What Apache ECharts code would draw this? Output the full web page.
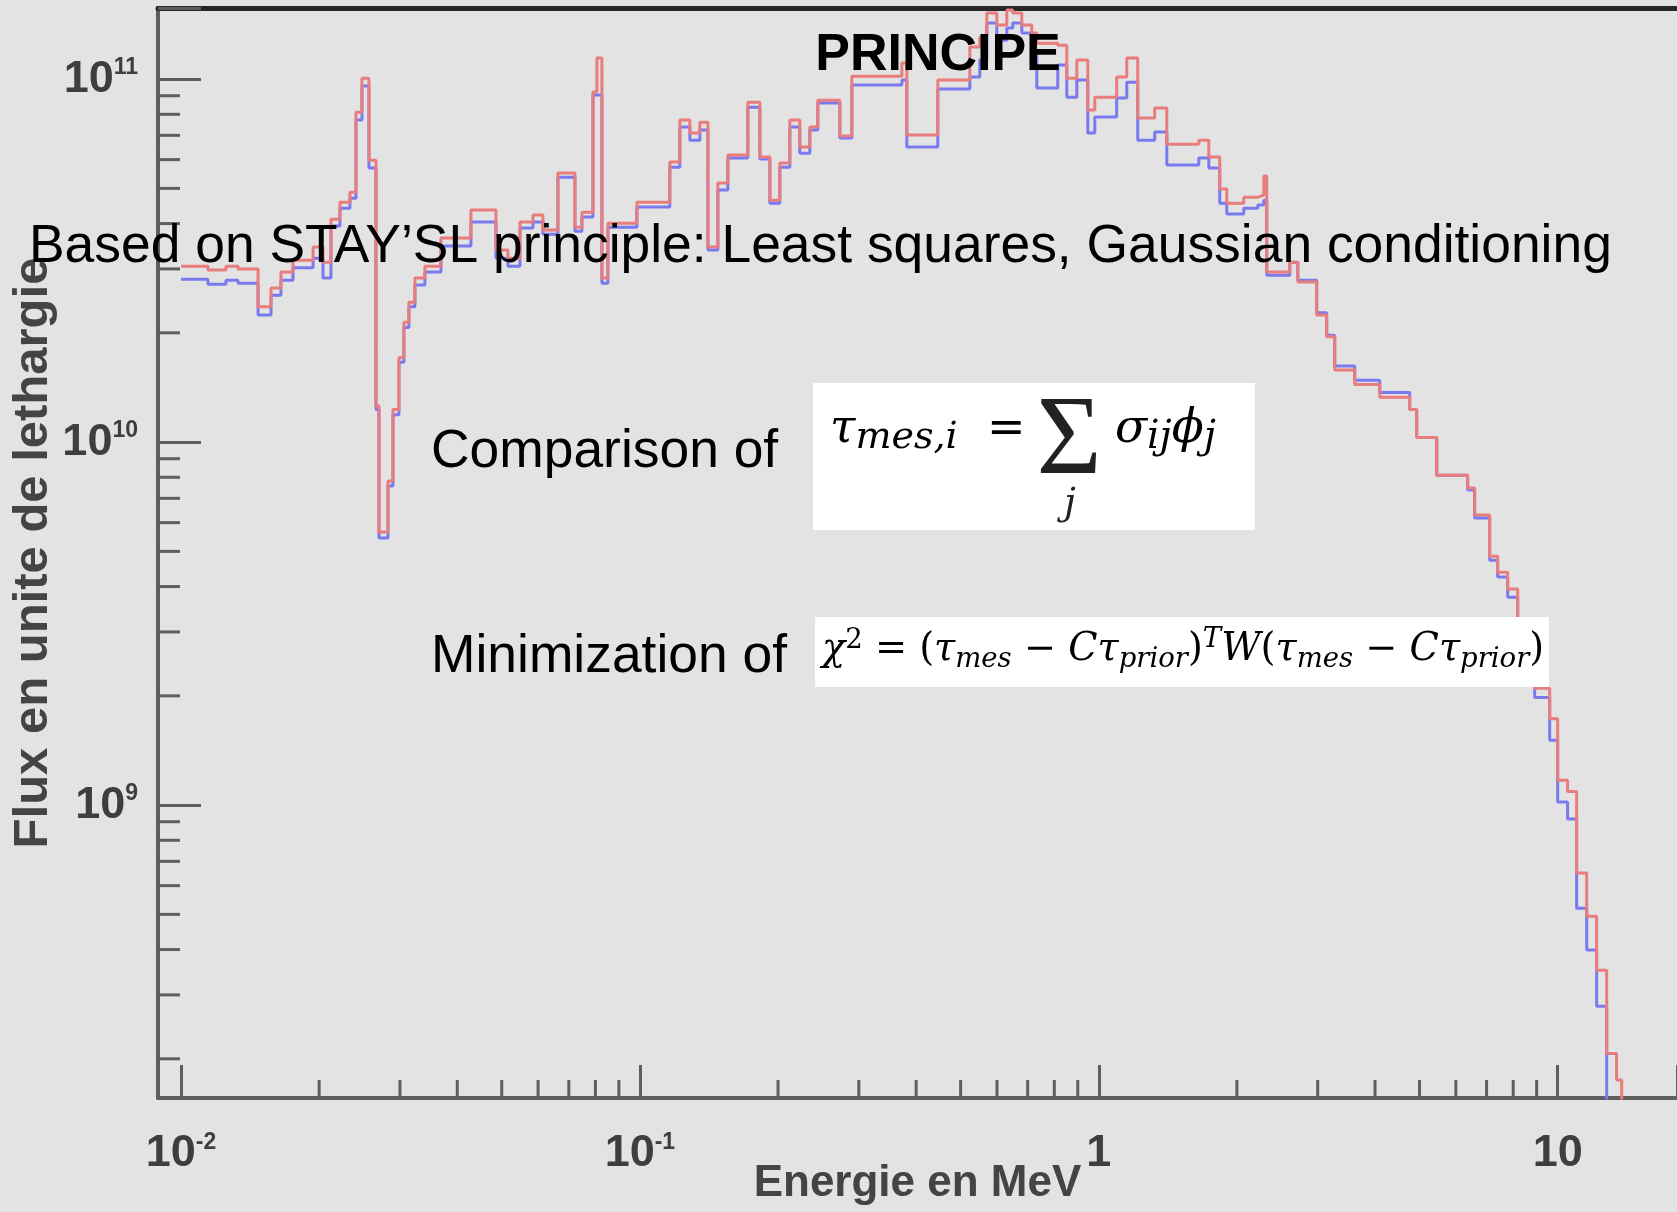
<!DOCTYPE html>
<html>
<head>
<meta charset="utf-8">
<title>PRINCIPE</title>
<script src="https://cdn.jsdelivr.net/npm/echarts@6/dist/echarts.min.js"></script>
<style>
  html, body { margin: 0; padding: 0; background: #e3e3e3; }
  #chart { width: 1677px; height: 1212px; }
</style>
</head>
<body>
<div id="chart"></div>
<script>
// bin edges of the group structure (MeV)
var energyEdges = [
  0.0100, 0.01145, 0.01253, 0.01331, 0.01472, 0.01571, 0.01651, 0.01754, 0.01940, 0.02039,
  0.02122, 0.02220, 0.02334, 0.02406, 0.02479, 0.02568, 0.02660, 0.02700, 0.02825, 0.02897,
  0.02985, 0.03060, 0.03138, 0.03234, 0.03400, 0.03685, 0.04283, 0.04857, 0.05158, 0.05478,
  0.05847, 0.06148, 0.06628, 0.07219, 0.07476, 0.07901, 0.08061, 0.08265, 0.08518, 0.09851,
  0.1162, 0.1222, 0.1285, 0.1351, 0.1407, 0.1479, 0.1555, 0.1719, 0.1826, 0.1920,
  0.2018, 0.2122, 0.2231, 0.2346, 0.2442, 0.2728, 0.2897, 0.3723, 0.3817, 0.4459,
  0.5236, 0.5504, 0.5702, 0.5995, 0.6304, 0.6495, 0.6796, 0.7145, 0.7327, 0.8140,
  0.8518, 0.8956, 0.9463, 0.9802, 1.094, 1.151, 1.216, 1.324, 1.407, 1.652,
  1.737, 1.835, 1.901, 2.070, 2.221, 2.289, 2.323, 2.608, 2.715, 2.985,
  3.138, 3.267, 3.612, 4.095, 4.760, 4.930, 5.451, 6.367, 6.594, 7.110,
  7.401, 7.782, 8.183, 8.912, 9.608, 10.00, 10.51, 11.00, 11.57, 12.16,
  12.79, 13.44, 13.79
];

// flux per unit lethargy, one value per bin
var fluxBlue = [
  2.81e10, 2.72e10, 2.79e10, 2.74e10, 2.24e10, 2.54e10, 2.79e10, 3.02e10, 3.21e10, 2.83e10,
  3.94e10, 4.41e10, 4.70e10, 7.71e10, 9.57e10, 5.69e10, 1.23e10, 5.44e9, 7.57e9, 1.19e10,
  1.66e10, 2.07e10, 2.36e10, 2.71e10, 2.94e10, 3.47e10, 4.04e10, 3.21e10, 3.05e10, 3.89e10,
  4.04e10, 3.74e10, 5.37e10, 3.81e10, 4.17e10, 9.04e10, 9.04e10, 2.74e10, 3.91e10, 4.44e10,
  5.72e10, 7.38e10, 6.79e10, 7.24e10, 3.38e10, 4.95e10, 6.06e10, 8.37e10, 6.02e10, 4.55e10,
  5.72e10, 7.38e10, 6.25e10, 7.24e10, 8.59e10, 6.88e10, 9.63e10, 9.94e10, 6.50e10, 9.39e10,
  1.013e11, 1.128e11, 1.427e11, 1.280e11, 1.382e11, 1.427e11, 1.339e11, 1.179e11, 9.45e10, 1.093e11,
  8.92e10, 9.94e10, 7.10e10, 7.86e10, 8.87e10, 9.81e10, 6.79e10, 7.15e10, 5.80e10, 6.06e10,
  5.69e10, 4.55e10, 4.25e10, 4.41e10, 4.50e10, 4.64e10, 2.88e10, 3.13e10, 2.79e10, 2.27e10,
  1.97e10, 1.62e10, 1.48e10, 1.37e10, 1.23e10, 1.03e10, 8.11e9, 7.38e9, 6.18e9, 4.73e9,
  4.25e9, 3.74e9, 2.67e9, 1.98e9, 1.51e9, 1.02e9, 9.15e8, 5.20e8, 3.99e8, 2.79e8,
  1e7, 1e7
];
var fluxRed = [
  3.05e10, 2.98e10, 3.05e10, 3.00e10, 2.36e10, 2.66e10, 2.94e10, 3.17e10, 3.45e10, 3.13e10,
  4.11e10, 4.58e10, 4.88e10, 8.11e10, 1.006e11, 5.98e10, 1.26e10, 5.65e9, 7.81e9, 1.23e10,
  1.71e10, 2.14e10, 2.43e10, 2.83e10, 3.05e10, 3.65e10, 4.36e10, 3.38e10, 3.21e10, 4.04e10,
  4.22e10, 3.84e10, 5.51e10, 3.91e10, 4.30e10, 9.21e10, 1.143e11, 2.83e10, 4.01e10, 4.58e10,
  5.91e10, 7.71e10, 7.10e10, 7.61e10, 3.45e10, 5.17e10, 6.18e10, 8.64e10, 6.10e10, 4.64e10,
  5.87e10, 7.71e10, 6.50e10, 7.38e10, 8.75e10, 6.97e10, 1.019e11, 1.107e11, 7.01e10, 9.94e10,
  1.225e11, 1.305e11, 1.520e11, 1.409e11, 1.549e11, 1.520e11, 1.409e11, 1.339e11, 1.256e11, 1.240e11,
  1.006e11, 1.128e11, 8.22e10, 8.92e10, 1.013e11, 1.143e11, 7.81e10, 8.32e10, 6.62e10, 6.79e10,
  6.10e10, 4.98e10, 4.55e10, 4.73e10, 4.79e10, 5.41e10, 2.94e10, 3.13e10, 2.76e10, 2.24e10,
  1.95e10, 1.58e10, 1.44e10, 1.33e10, 1.23e10, 1.03e10, 8.11e9, 7.47e9, 6.30e9, 4.85e9,
  4.38e9, 3.94e9, 2.85e9, 2.10e9, 1.73e9, 1.17e9, 1.09e9, 6.50e8, 4.94e8, 3.51e8,
  2.07e8, 1.75e8
];

var xRange = [0.00891, 18.2];
var yRange = [1.56e8, 1.57e11];
var floorValue = 1e7;

var xMajorTicks = [0.01, 0.1, 1, 10];
var xMajorBase = ['10', '10', '1', '10'];
var xMajorExp = ['-2', '-1', '', ''];
var xMinorTicks = [0.02, 0.03, 0.04, 0.05, 0.06, 0.07, 0.08, 0.09,
  0.2, 0.3, 0.4, 0.5, 0.6, 0.7, 0.8, 0.9,
  2, 3, 4, 5, 6, 7, 8, 9];
var yMajorTicks = [1e9, 1e10, 1e11];
var yMajorExp = ['9', '10', '11'];
var yMinorTicks = [2e8, 3e8, 4e8, 5e8, 6e8, 7e8, 8e8, 9e8,
  2e9, 3e9, 4e9, 5e9, 6e9, 7e9, 8e9, 9e9,
  2e10, 3e10, 4e10, 5e10, 6e10, 7e10, 8e10, 9e10];

var SANS = "'Liberation Sans', Arial, Helvetica, sans-serif";
var SERIF = "'DejaVu Serif', 'Liberation Serif', serif";
var AXIS_GREY = '#5e5e5e';
var LABEL_GREY = '#3e3e3e';
var INK = '#222';

function stepData(values) {
  var pts = [];
  for (var i = 0; i < values.length; i++) {
    pts.push([energyEdges[i], values[i]]);
  }
  var last = energyEdges[values.length];
  pts.push([last, values[values.length - 1]]);
  pts.push([last, floorValue]);
  return pts;
}

function tickIndex(list, v) {
  for (var i = 0; i < list.length; i++) {
    if (Math.abs(Math.log10(v) - Math.log10(list[i])) < 1e-6) return i;
  }
  return -1;
}

var labelRich = {
  b: { fontFamily: SANS, fontSize: 45, fontWeight: 'bold', color: LABEL_GREY, lineHeight: 46 },
  s: { fontFamily: SANS, fontSize: 23, fontWeight: 'bold', color: LABEL_GREY, verticalAlign: 'top', lineHeight: 22 }
};

function minorTickSeries(values, horizontal) {
  return {
    type: 'custom',
    silent: true,
    clip: false,
    z: 3,
    data: values.map(function (v) { return horizontal ? [xRange[0], v] : [v, yRange[0]]; }),
    renderItem: function (params, api) {
      var p = api.coord([api.value(0), api.value(1)]);
      var shape = horizontal
        ? { x1: p[0], y1: p[1], x2: p[0] + 22, y2: p[1] }
        : { x1: p[0], y1: p[1], x2: p[0], y2: p[1] - 18 };
      return { type: 'line', shape: shape, style: { stroke: AXIS_GREY, lineWidth: 3 } };
    }
  };
}

var mathRich = function (main, sub) {
  return {
    m: { fontFamily: SERIF, fontStyle: 'italic', fontSize: main, lineHeight: main + 8, color: INK },
    n: { fontFamily: SERIF, fontSize: main, lineHeight: main + 8, color: INK },
    s: { fontFamily: SERIF, fontStyle: 'italic', fontSize: sub, lineHeight: sub + 2, verticalAlign: 'bottom', color: INK },
    p: { fontFamily: SERIF, fontSize: sub, lineHeight: sub + 2, verticalAlign: 'top', color: INK },
    q: { fontFamily: SERIF, fontStyle: 'italic', fontSize: sub, lineHeight: sub + 2, verticalAlign: 'top', color: INK }
  };
};

var chart = echarts.init(document.getElementById('chart'));
chart.setOption({
  animation: false,
  backgroundColor: '#e3e3e3',
  textStyle: { fontFamily: SANS },
  grid: { left: 158, right: 0, top: 8, bottom: 114, containLabel: false, outerBoundsMode: 'none' },
  xAxis: [{
    type: 'log',
    logBase: 10,
    min: xRange[0],
    max: xRange[1],
    name: 'Energie en MeV',
    nameLocation: 'middle',
    nameGap: 64,
    nameMoveOverlap: false,
    nameTextStyle: { fontFamily: SANS, fontSize: 44, fontWeight: 'bold', color: '#444' },
    axisLine: { show: true, lineStyle: { color: AXIS_GREY, width: 4 } },
    axisTick: { show: true, inside: true, length: 33, lineStyle: { color: AXIS_GREY, width: 3 } },
    axisLabel: {
      margin: 33,
      rich: labelRich,
      formatter: function (v) {
        var i = tickIndex(xMajorTicks, v);
        if (i < 0) return '';
        return xMajorExp[i] ? '{b|' + xMajorBase[i] + '}{s|' + xMajorExp[i] + '}' : '{b|' + xMajorBase[i] + '}';
      }
    },
    splitLine: { show: false }
  }, {
    type: 'log',
    logBase: 10,
    position: 'top',
    min: xRange[0],
    max: xRange[1],
    axisLine: { show: true, lineStyle: { color: '#262626', width: 5 } },
    axisTick: { show: false },
    axisLabel: { show: false },
    splitLine: { show: false }
  }],
  yAxis: {
    type: 'log',
    logBase: 10,
    min: yRange[0],
    max: yRange[1],
    name: 'Flux en unite de lethargie',
    nameLocation: 'middle',
    nameGap: 100,
    nameMoveOverlap: false,
    nameTextStyle: { fontFamily: SANS, fontSize: 49, fontWeight: 'bold', color: '#444' },
    axisLine: { show: true, lineStyle: { color: AXIS_GREY, width: 4 } },
    axisTick: { show: true, inside: true, length: 43, lineStyle: { color: AXIS_GREY, width: 3 } },
    axisLabel: {
      margin: 20,
      rich: labelRich,
      formatter: function (v) {
        var i = tickIndex(yMajorTicks, v);
        if (i < 0) return '';
        return '{b|10}{s|' + yMajorExp[i] + '}';
      }
    },
    splitLine: { show: false }
  },
  series: [
    minorTickSeries(xMinorTicks, false),
    minorTickSeries(yMinorTicks, true),
    {
      name: 'prior',
      type: 'line',
      step: 'end',
      symbol: 'none',
      data: stepData(fluxBlue),
      lineStyle: { color: '#7a7af0', width: 3 },
      z: 4
    },
    {
      name: 'adjusted',
      type: 'line',
      step: 'end',
      symbol: 'none',
      data: stepData(fluxRed),
      lineStyle: { color: '#e97c7c', width: 3 },
      z: 5
    }
  ],
  graphic: [
    { type: 'text', x: 938, y: 56, z: 100,
      style: { text: 'PRINCIPE', font: 'bold 52px ' + SANS, fill: '#000', align: 'center', verticalAlign: 'middle' } },
    { type: 'text', x: 29, y: 247, z: 100,
      style: { text: 'Based on STAY\u2019SL principle: Least squares, Gaussian conditioning', font: '53.4px ' + SANS, fill: '#000', align: 'left', verticalAlign: 'middle' } },
    { type: 'text', x: 431, y: 452, z: 100,
      style: { text: 'Comparison of', font: '53.4px ' + SANS, fill: '#000', align: 'left', verticalAlign: 'middle' } },
    { type: 'text', x: 431, y: 657, z: 100,
      style: { text: 'Minimization of', font: '53.4px ' + SANS, fill: '#000', align: 'left', verticalAlign: 'middle' } },
    { type: 'rect', z: 100, shape: { x: 813, y: 383, width: 442, height: 147 }, style: { fill: '#ffffff' } },
    { type: 'rect', z: 100, shape: { x: 815, y: 617, width: 734, height: 70 }, style: { fill: '#ffffff' } },
    { type: 'text', x: 830, y: 430, z: 101,
      style: { text: '{m|\u03c4}{s|mes,i}{n|  =}', align: 'left', verticalAlign: 'middle', rich: mathRich(46, 38) } },
    { type: 'text', x: 1069, y: 444, z: 101,
      style: { text: '\u03a3', font: '112px ' + "'Liberation Serif', serif", fill: INK, align: 'center', verticalAlign: 'middle' } },
    { type: 'text', x: 1070, y: 504, z: 101,
      style: { text: 'j', font: 'italic 38px ' + SERIF, fill: INK, align: 'center', verticalAlign: 'middle' } },
    { type: 'text', x: 1115, y: 430, z: 101,
      style: { text: '{m|\u03c3}{s|ij}{m|\u03d5}{s|j}', align: 'left', verticalAlign: 'middle', rich: mathRich(47, 39) } },
    { type: 'text', x: 822, y: 650, z: 101,
      style: {
        text: '{m|\u03c7}{p|2}{n| = (}{m|\u03c4}{s|mes}{n| \u2212 }{m|C\u03c4}{s|prior}{n|)}{q|T}{m|W}{n|(}{m|\u03c4}{s|mes}{n| \u2212 }{m|C\u03c4}{s|prior}{n|)}',
        align: 'left', verticalAlign: 'middle', rich: mathRich(38.3, 27.5)
      } }
  ]
});
</script>
</body>
</html>
